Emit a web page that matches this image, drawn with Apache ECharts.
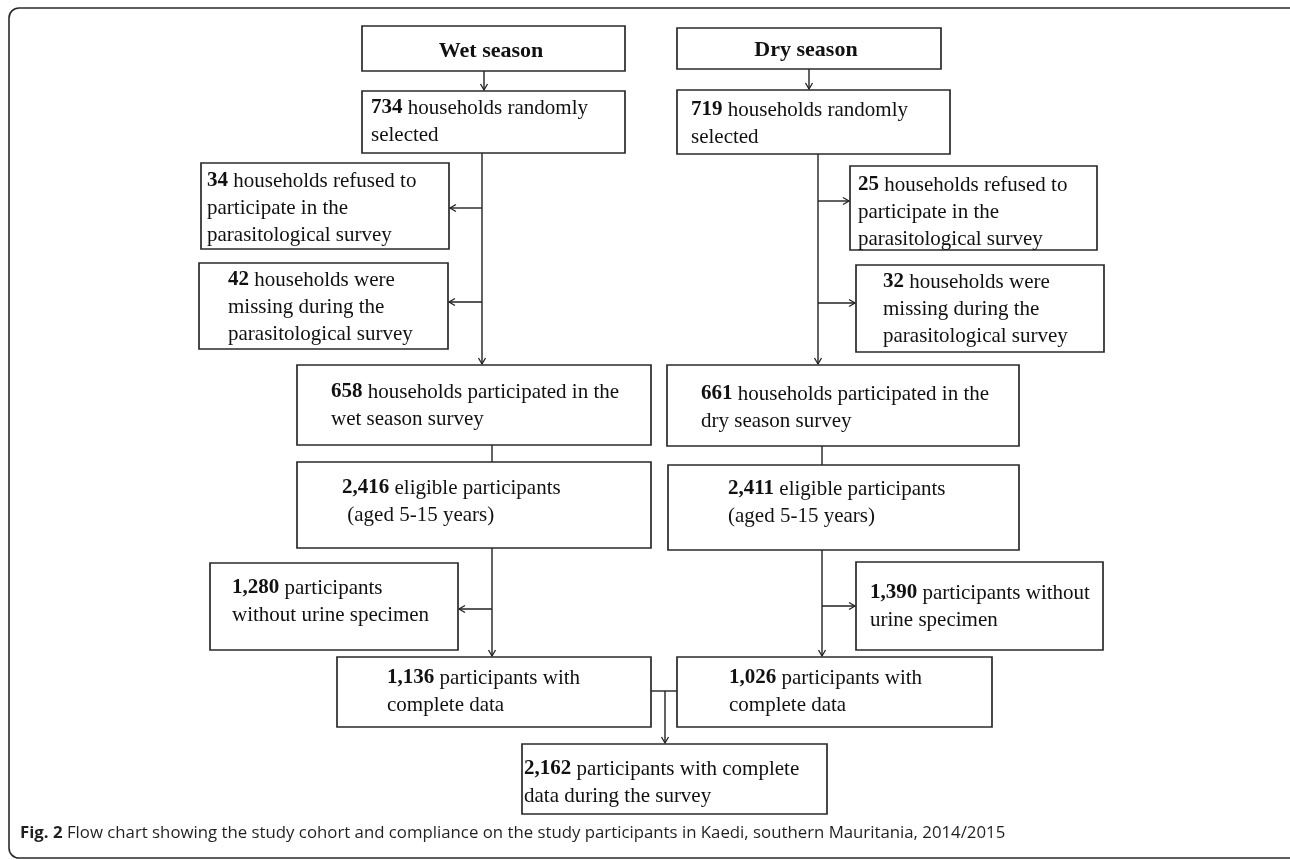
<!DOCTYPE html>
<html>
<head>
<meta charset="utf-8">
<script src="https://cdn.jsdelivr.net/npm/echarts@6/dist/echarts.min.js"></script>
<style>
html,body{margin:0;padding:0;background:#fff;}
#chart{width:1290px;height:860px;}
</style>
</head>
<body>
<div id="chart"></div>
<script>
// ---- Flow chart content (counts and their descriptions) ----
const nodeCounts = [null, 734, 34, 42, 658, 2416, null, 719, 25, 32, 661, 2411, 1280, 1136, 1390, 1026, 2162];
const nodeTexts = [
  'Wet season',
  ' households randomly\nselected',
  ' households refused to\nparticipate in the\nparasitological survey',
  ' households were\nmissing during the\nparasitological survey',
  ' households participated in the\nwet season survey',
  ' eligible participants\n (aged 5-15 years)',
  'Dry season',
  ' households randomly\nselected',
  ' households refused to\nparticipate in the\nparasitological survey',
  ' households were\nmissing during the\nparasitological survey',
  ' households participated in the\ndry season survey',
  ' eligible participants\n(aged 5-15 years)',
  ' participants\nwithout urine specimen',
  ' participants with\ncomplete data',
  ' participants without\nurine specimen',
  ' participants with\ncomplete data',
  ' participants with complete\ndata during the survey'
];
const captionLabel = 'Fig. 2';
const captionText = 'Flow chart showing the study cohort and compliance on the study participants in Kaedi, southern Mauritania, 2014/2015';

// ---- Layout (diagram coordinate space 0..1290 x 0..860) ----
const boxRects = [
  [362, 26, 625, 71],
  [362, 91, 625, 153],
  [201, 163, 449, 249],
  [199, 263, 448, 349],
  [297, 365, 651, 445],
  [297, 462, 651, 548],
  [677, 28, 941, 69],
  [677, 90, 950, 154],
  [850, 166, 1097, 250],
  [856, 265, 1104, 352],
  [667, 365, 1019, 446],
  [668, 465, 1019, 550],
  [210, 563, 458, 650],
  [337, 657, 651, 727],
  [856, 562, 1103, 650],
  [677, 657, 992, 727],
  [522, 744, 827, 814]
];
// text anchor: x, first line centre y
const textAnchors = [
  [491, 51], [371, 108], [207, 181], [228, 280], [331, 392], [342, 488],
  [806, 50], [691, 110], [858, 185], [883, 282], [701, 394], [728, 489],
  [232, 588], [387, 678], [870, 593], [729, 678], [524, 769]
];
// connectors: x1, y1, x2, y2, arrowhead (1 = yes)
const edges = [
  [484, 71, 484, 90, 1],
  [482, 153, 482, 364, 1],
  [482, 208, 450, 208, 1],
  [482, 302, 449, 302, 1],
  [492, 445, 492, 462, 0],
  [492, 548, 492, 656, 1],
  [492, 609, 459, 609, 1],
  [809, 69, 809, 89, 1],
  [818, 154, 818, 364, 1],
  [818, 201, 849, 201, 1],
  [818, 303, 855, 303, 1],
  [822, 446, 822, 465, 0],
  [822, 550, 822, 656, 1],
  [822, 606, 855, 606, 1],
  [651, 691, 677, 691, 0],
  [665, 691, 665, 743, 1]
];

const SERIF = '"Liberation Serif","Times New Roman",serif';
const LH = 27;
const rich = {
  b: {fontFamily: SERIF, fontSize: 21, fontWeight: 'bold', lineHeight: LH, fill: '#111'},
  n: {fontFamily: SERIF, fontSize: 21, lineHeight: LH, fill: '#111'},
  h: {fontFamily: SERIF, fontSize: 22, fontWeight: 'bold', lineHeight: LH, fill: '#111'}
};
function fmt(v) { return v.toLocaleString('en-US'); }
const richTexts = nodeCounts.map(function (c, i) {
  if (c === null) return '{h|' + nodeTexts[i] + '}';
  const lines = nodeTexts[i].split('\n');
  return lines.map(function (l, k) {
    return (k === 0 ? '{b|' + fmt(c) + '}' : '') + '{n|' + l + '}';
  }).join('\n');
});

const boxData = boxRects.map(function (r, i) {
  return [r[0], r[1], r[2], r[3], textAnchors[i][0], textAnchors[i][1], i];
});

const chart = echarts.init(document.getElementById('chart'), null, {renderer: 'canvas'});
chart.setOption({
  backgroundColor: '#fff',
  animation: false,
  title: {
    text: '{f|' + captionLabel + '} {c|' + captionText + '}',
    left: 15,
    top: 820,
    textStyle: {
      fontWeight: 'normal',
      fontSize: 16.8,
      fontFamily: '"Open Sans",sans-serif',
      color: '#231f20',
      rich: {
        f: {fontFamily: '"Open Sans",sans-serif', fontSize: 16.8, fontWeight: 'bold', color: '#231f20'},
        c: {fontFamily: '"Open Sans",sans-serif', fontSize: 16.8, fontWeight: 'normal', color: '#231f20'}
      }
    }
  },
  graphic: [{
    type: 'rect',
    shape: {x: 9, y: 8, width: 1290, height: 850, r: 10},
    style: {fill: null, stroke: '#2a2a2a', lineWidth: 1.6},
    silent: true
  }],
  grid: {left: 0, right: 0, top: 0, bottom: 0},
  xAxis: {type: 'value', min: 0, max: 1290, show: false},
  yAxis: {type: 'value', min: 0, max: 860, inverse: true, show: false},
  series: [
    {
      type: 'custom',
      name: 'connectors',
      coordinateSystem: 'cartesian2d',
      encode: {x: [0, 2], y: [1, 3]},
      silent: true,
      z: 1,
      data: edges,
      renderItem: function (params, api) {
        const a = api.coord([api.value(0), api.value(1)]);
        const b = api.coord([api.value(2), api.value(3)]);
        const children = [{
          type: 'line',
          shape: {x1: a[0], y1: a[1], x2: b[0], y2: b[1]},
          style: {stroke: '#222', lineWidth: 1.4}
        }];
        if (api.value(4) === 1) {
          const dx = b[0] - a[0], dy = b[1] - a[1];
          const len = Math.sqrt(dx * dx + dy * dy) || 1;
          const ux = dx / len, uy = dy / len;
          const px = -uy, py = ux;
          const L = 6, W = 3.5;
          children.push({
            type: 'polyline',
            shape: {points: [
              [b[0] - ux * L + px * W, b[1] - uy * L + py * W],
              [b[0], b[1]],
              [b[0] - ux * L - px * W, b[1] - uy * L - py * W]
            ]},
            style: {stroke: '#222', lineWidth: 1.3, fill: null}
          });
        }
        return {type: 'group', children: children};
      }
    },
    {
      type: 'custom',
      name: 'boxes',
      coordinateSystem: 'cartesian2d',
      encode: {x: [0, 2, 4], y: [1, 3, 5]},
      silent: true,
      z: 2,
      data: boxData,
      renderItem: function (params, api) {
        const p0 = api.coord([api.value(0), api.value(1)]);
        const p1 = api.coord([api.value(2), api.value(3)]);
        const t = api.coord([api.value(4), api.value(5)]);
        const i = api.value(6);
        const header = nodeCounts[i] === null;
        return {
          type: 'group',
          children: [
            {
              type: 'rect',
              shape: {x: p0[0], y: p0[1], width: p1[0] - p0[0], height: p1[1] - p0[1]},
              style: {fill: '#fff', stroke: '#2a2a2a', lineWidth: 1.7}
            },
            {
              type: 'text',
              x: t[0],
              y: t[1] - LH / 2,
              style: {
                text: richTexts[i],
                rich: rich,
                textAlign: header ? 'center' : 'left',
                textVerticalAlign: 'top',
                fill: '#111'
              }
            }
          ]
        };
      }
    }
  ]
});
</script>
</body>
</html>
